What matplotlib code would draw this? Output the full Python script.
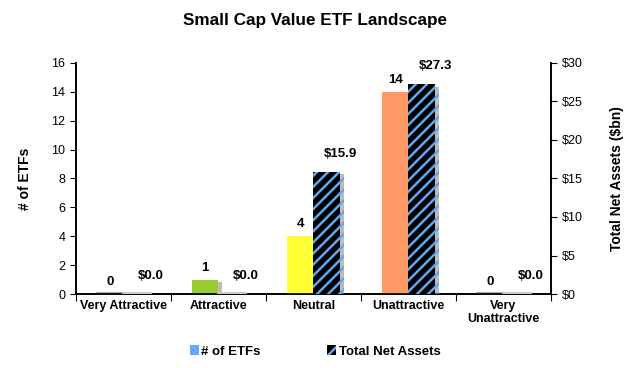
import matplotlib
matplotlib.use("Agg")
import matplotlib.pyplot as plt
import matplotlib.patheffects as pe
from matplotlib.patches import Patch
import numpy as np

categories = ["Very Attractive", "Attractive", "Neutral", "Unattractive", "Very\nUnattractive"]
num_etfs = [0, 1, 4, 14, 0]
total_assets = [0.0, 0.0, 15.9, 27.3, 0.0]
count_colors = ["#A0A0A0", "#99CC33", "#FFFF33", "#FF9966", "#A0A0A0"]
left_ticks = [0, 2, 4, 6, 8, 10, 12, 14, 16]
right_ticks = [0, 5, 10, 15, 20, 25, 30]

plt.rcParams['font.family'] = ['Liberation Sans', 'DejaVu Sans']
plt.rcParams['hatch.linewidth'] = 1.8

fig = plt.figure(figsize=(6.3, 3.68), dpi=100)
ax = fig.add_axes([0.1206, 0.201, 0.754, 0.628])
ax2 = ax.twinx()

x = np.arange(len(categories))
w = 0.28
off = 0.14
shadow = [pe.SimplePatchShadow(offset=(2.5, -2), shadow_rgbFace="#909090", alpha=0.6), pe.Normal()]

bars1 = ax.bar(x - off, num_etfs, w, color=count_colors, linewidth=0, zorder=3)
for b in bars1:
    b.set_path_effects(shadow)
bars2 = ax2.bar(x + off, total_assets, w, color="black", edgecolor="#5FA8F0", hatch="///", linewidth=0, zorder=3)
for b in bars2:
    b.set_path_effects(shadow)

# zero-value markers
for xi, v in zip(x, num_etfs):
    if v == 0:
        ax.plot([xi - off - w/2, xi - off + w/2], [0.05, 0.05], color="#A0A0A0", lw=2, zorder=4)
for xi, v in zip(x, total_assets):
    if v == 0:
        ax2.plot([xi + off - w/2, xi + off + w/2], [0.1, 0.1], color="#C8C8C8", lw=2, zorder=4)

for xi, v in zip(x, num_etfs):
    ax.annotate(f"{v}", (xi - off, v), xytext=(0, 6), textcoords="offset pixels",
                ha="center", va="bottom", fontsize=9.5, fontweight="bold")
for xi, v in zip(x, total_assets):
    ax2.annotate(f"${v:.1f}", (xi + off, v), xytext=(14, 12), textcoords="offset pixels",
                 ha="center", va="bottom", fontsize=9.5, fontweight="bold")

ax.set_xlim(-0.5, 4.5)
ax.set_ylim(0, 16)
ax2.set_ylim(0, 30)
ax.set_yticks(left_ticks)
ax2.set_yticks(right_ticks)
ax2.set_yticklabels([f"${t}" for t in right_ticks])

ax.set_xticks(np.arange(-0.5, 5, 1))
ax.set_xticklabels([])
ax.set_xticks(x, minor=True)
ax.set_xticklabels(categories, minor=True, fontweight="bold", fontsize=9)
ax.tick_params(axis="x", which="minor", length=0, pad=4)
ax.tick_params(axis="x", which="major", length=5, direction="out")

for a in (ax, ax2):
    a.spines["top"].set_visible(False)
    for s in a.spines.values():
        s.set_linewidth(1.2)
ax.tick_params(axis="y", labelsize=9, length=4)
ax2.tick_params(axis="y", labelsize=9, length=4)

ax.set_ylabel("# of ETFs", fontweight="bold", fontsize=10, labelpad=14)
ax2.set_ylabel("Total Net Assets ($bn)", fontweight="bold", fontsize=10, labelpad=20)

fig.suptitle("Small Cap Value ETF Landscape", fontweight="bold", fontsize=12.3, y=0.965)

handles = [Patch(facecolor="#66AAFF", edgecolor="none"),
           Patch(facecolor="black", edgecolor="#5FA8F0", hatch="//", linewidth=0)]
fig.legend(handles, ["# of ETFs", "Total Net Assets"], loc="center", bbox_to_anchor=(0.5, 0.045),
           ncol=2, frameon=False, prop={"weight": "bold", "size": 9.5},
           handlelength=0.7, handleheight=0.7, handletextpad=0.2, columnspacing=5)

fig.savefig("out.png", dpi=100)
